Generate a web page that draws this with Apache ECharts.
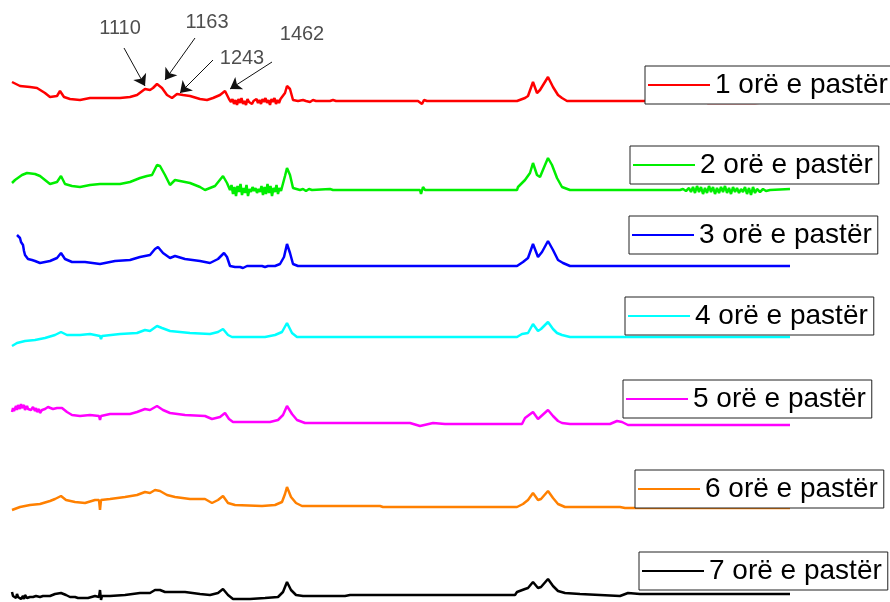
<!DOCTYPE html>
<html>
<head>
<meta charset="utf-8">
<script src="https://cdn.jsdelivr.net/npm/echarts@6/dist/echarts.min.js"></script>
<style>
  html, body { margin: 0; padding: 0; background: #fff; }
  #chart { width: 890px; height: 602px; }
</style>
</head>
<body>
<div id="chart"></div>
<script>
// series names and colours
const seriesNames = ['1 orë e pastër', '2 orë e pastër', '3 orë e pastër', '4 orë e pastër', '5 orë e pastër', '6 orë e pastër', '7 orë e pastër'];
const seriesColors = ['#ff0000', '#00ee00', '#0000ff', '#00ffff', '#ff00ff', '#ff8000', '#000000'];

// vertical stacking offset of each spectrum
const offsets = [501, 412, 336, 265, 178, 95, 7];

// [shift, intensity above own baseline]
const spectrum1 = [[12,19],[20,15],[30,14],[37,13],[45,8],[50,4],[57,5],[60,10],[64,4],[70,2],[80,1],[90,3],[100,3],[120,3],[130,4],[137,6],[145,12],[150,11],[153,13],[157,17],[162,13],[167,6],[172,3],[177,7],[183,6],[190,5],[200,2],[207,1],[213,3],[220,6],[225,10],[229,2],
  [231,-1],[232.5,2],[234,-3],[235.5,1],[237,-4],[238.5,2],[240,-2],[241.5,3],[243,-3],[244.5,0],[246,-4],[247.5,2],[249,-1],[250.5,1],[252,-3],[253.5,0],[255,-1],[256.5,2],[258,-2],[259.5,1],[261,-3],[262.5,2],[264,-1],[265.5,3],[267,-2],[268.5,1],[270,-4],[271.5,2],[273,-1],[274.5,3],[276,-3],[277.5,1],[279,-2],[280.5,2],[282,0],
  [285,8],[287,15],[290,12],[293,1],[298,0],[300,-1],[303,1],[306,0],[310,-1],[313,1],[316,0],[330,0],[333,1],[336,0],[370,0],[372,-2],[375,0],[418,0],[420,2],[422,-3],[424,1],[427,0],[517,0],[525,3],[528,5],[533,19],[537,8],[540,11],[548,24],[553,14],[558,6],[562,3],[567,0],[700,0],[708,-2],[710,0],[755,-2],[757,0],[790,0]];

const spectrum2 = [[12,7],[15,10],[22,15],[27,17],[35,16],[40,14],[45,10],[50,6],[57,8],[61,14],[65,6],[72,4],[80,3],[90,5],[100,6],[120,6],[130,8],[140,12],[147,14],[152,15],[157,25],[160,24],[165,15],[170,5],[175,10],[180,9],[190,7],[200,3],[205,0],[215,4],[223,14],[227,7],
  [230,0],[231.5,5],[233,-4],[234.5,3],[236,-6],[237.5,4],[239,-2],[240.5,6],[242,-5],[243.5,2],[245,-3],[246.5,5],[248,-6],[249.5,1],[251,-2],[252.5,3],[254,-1],[255.5,2],[257,-3],[258.5,1],[260,-2],[261.5,4],[263,-5],[264.5,3],[266,-4],[267.5,6],[269,-3],[270.5,4],[272,-6],[273.5,2],[275,-2],[276.5,5],[278,-4],[279.5,2],[281,-1],
  [285,14],[287,22],[290,15],[293,2],[300,0],[303,1],[306,-1],[309,1],[312,0],[330,1],[333,0],[420,0],[421,-4],[423,3],[425,0],[517,0],[518,3],[525,10],[530,17],[533,27],[537,15],[540,13],[545,25],[548,32],[552,25],[557,12],[562,3],[570,0],
  [680,0],[683,1],[686,-1],[689,2],[691,-2],[693,3],[695,-3],[697,4],[699,-2],[701,3],[703,-4],[705,2],[707,-3],[709,4],[711,-2],[713,3],[715,-4],[717,2],[719,-3],[721,3],[723,-2],[725,4],[727,-3],[729,2],[731,-4],[733,3],[735,-2],[737,2],[739,-3],[741,1],[743,-2],[745,3],[747,-4],[749,2],[751,-5],[753,3],[755,-3],[757,1],[760,-2],[763,1],[766,-1],[770,0],[790,1]];

const spectrum3 = [[17,31],[20,28],[21,24],[23,21],[24,15],[25,11],[27,10],[28,7],[30,8],[32,6],[35,5],[40,3],[50,5],[57,8],[61,13],[65,7],[72,4],[85,4],[100,2],[115,5],[130,6],[140,9],[150,11],[152,9],[155,17],[158,19],[163,13],[170,8],[175,10],[185,7],[200,5],[210,3],[218,7],[224,13],[227,9],[230,0],[235,-1],[237,0],[240,-1],[243,-2],[245,-3],[247,0],[258,0],[260,-2],[262,0],[265,-1],[268,0],[275,0],[280,2],[284,9],[287,22],[290,13],[293,2],[298,0],[517,0],[523,4],[528,8],[533,22],[538,9],[542,14],[548,25],[553,16],[558,6],[563,3],[570,0],[790,0]];

const spectrum4 = [[12,-9],[17,-6],[25,-4],[35,-3],[45,-1],[55,2],[61,5],[67,2],[80,2],[90,3],[100,1],[101,-2],[102,1],[120,3],[137,4],[145,7],[150,6],[157,11],[162,9],[170,6],[190,4],[210,3],[218,5],[223,8],[228,2],[232,0],[265,0],[275,2],[282,5],[287,14],[292,4],[297,0],[517,0],[522,3],[528,4],[533,13],[538,6],[541,8],[548,15],[553,8],[557,4],[562,2],[570,0],[790,0]];

const spectrum5 = [[12,12],[13,16],[14,13],[16,18],[17,14],[18,19],[20,15],[21,20],[22,16],[24,19],[25,14],[27,18],[28,15],[30,17],[31,14],[33,17],[35,13],[36,16],[37,12],[39,15],[40,11],[42,14],[44,12],[45,15],[47,13],[48,17],[50,18],[53,15],[57,16],[62,16],[67,12],[72,9],[80,8],[90,9],[99,8],[100,4],[101,8],[110,10],[130,10],[137,12],[145,15],[150,14],[157,18],[163,14],[170,11],[185,9],[205,8],[212,5],[220,7],[225,11],[229,5],[233,2],[270,2],[278,4],[283,9],[287,18],[292,10],[297,4],[305,1],[410,1],[420,-2],[433,1],[445,0],[522,0],[525,6],[533,12],[538,5],[548,14],[553,8],[558,3],[562,1],[570,0],[610,0],[617,3],[622,2],[628,-1],[790,-1]];

const spectrum6 = [[12,-3],[20,0],[30,2],[40,3],[50,6],[55,8],[61,11],[66,7],[75,5],[85,4],[95,7],[99,7],[100,-3],[101,7],[110,8],[125,10],[137,12],[145,15],[150,14],[155,17],[160,16],[167,12],[175,10],[190,8],[205,8],[212,4],[218,7],[223,11],[228,4],[235,2],[262,1],[275,2],[282,5],[285,13],[287,20],[291,10],[296,4],[302,1],[380,1],[383,0],[517,0],[523,3],[528,7],[533,14],[538,7],[541,8],[548,16],[553,9],[558,3],[565,0],[620,0],[625,-1],[790,-1]];

const spectrum7 = [[12,3],[13,-1],[14,1],[16,-3],[17,1],[18,-2],[20,-1],[21,-4],[23,-1],[24,-4],[25,0],[27,-3],[28,-1],[30,-2],[31,-4],[33,-2],[34,-4],[36,-1],[38,-3],[40,-2],[41,-4],[43,-1],[45,-3],[46,-1],[48,-3],[50,-1],[55,1],[61,2],[66,0],[70,-2],[72,-3],[75,-2],[78,-3],[80,-1],[83,-3],[85,-2],[88,-3],[90,-3],[95,-1],[99,-2],[100,5],[101,-5],[102,-1],[110,-1],[125,0],[140,2],[150,2],[155,5],[160,5],[165,3],[185,3],[200,1],[210,0],[218,2],[223,6],[228,0],[233,-4],[250,-4],[265,-3],[278,-2],[283,3],[287,13],[291,5],[296,0],[303,-1],[345,-1],[350,0],[515,0],[517,3],[525,6],[528,7],[533,13],[538,7],[541,8],[548,16],[553,9],[558,4],[565,2],[580,1],[620,-1],[628,2],[640,1],[790,1]];

// peak annotations on the top spectrum
const peakLabels = ['1110', '1163', '1243', '1462'];
const peakLabelAt = [[120, 574], [207, 580], [242, 544], [302, 568]];
const peakArrowFrom = [[124, 554], [195, 564], [213, 542], [272, 540]];
const peakArrowTo = [[145, 516], [165, 522], [180, 509], [230, 513]];

// layout of the legend boxes
const legendBoxes = [[645, 66], [630, 146], [629, 216], [625, 297], [623, 380], [635, 470], [639, 552]];

const spectra = [spectrum1, spectrum2, spectrum3, spectrum4, spectrum5, spectrum6, spectrum7];

const chart = echarts.init(document.getElementById('chart'));

const series = spectra.map((points, i) => ({
  name: seriesNames[i],
  type: 'line',
  symbol: 'none',
  silent: true,
  lineStyle: { width: 2.5, color: seriesColors[i] },
  itemStyle: { color: seriesColors[i] },
  data: points.map(([x, v]) => [x, offsets[i] + v])
}));

series[0].markLine = {
  silent: true,
  symbol: ['none', 'arrow'],
  symbolSize: 11,
  label: { show: false },
  lineStyle: { color: '#111', width: 1, type: 'solid' },
  data: peakArrowFrom.map((from, i) => [{ coord: from }, { coord: peakArrowTo[i] }])
};

series.push({
  type: 'scatter',
  silent: true,
  symbolSize: 0,
  label: {
    show: true,
    position: 'inside',
    formatter: p => p.name,
    color: '#222',
    fontSize: 20,
    fontFamily: 'Liberation Sans'
  },
  data: peakLabels.map((name, i) => ({ name, value: peakLabelAt[i] }))
});

chart.setOption({
  animation: false,
  grid: { left: 0, right: 0, top: 0, bottom: 0 },
  xAxis: { type: 'value', min: 0, max: 890, show: false },
  yAxis: { type: 'value', min: 0, max: 602, show: false },
  legend: legendBoxes.map(([left, top], i) => ({
    data: [{ name: seriesNames[i], icon: 'rect' }],
    left,
    top,
    selectedMode: false,
    backgroundColor: '#fff',
    borderColor: '#222',
    borderWidth: 1,
    padding: [5, 6, 5, 3],
    itemWidth: 62,
    itemHeight: 2,
    textStyle: { fontSize: 28, fontFamily: 'Liberation Sans', color: '#000' }
  })),
  series
});
</script>
</body>
</html>
